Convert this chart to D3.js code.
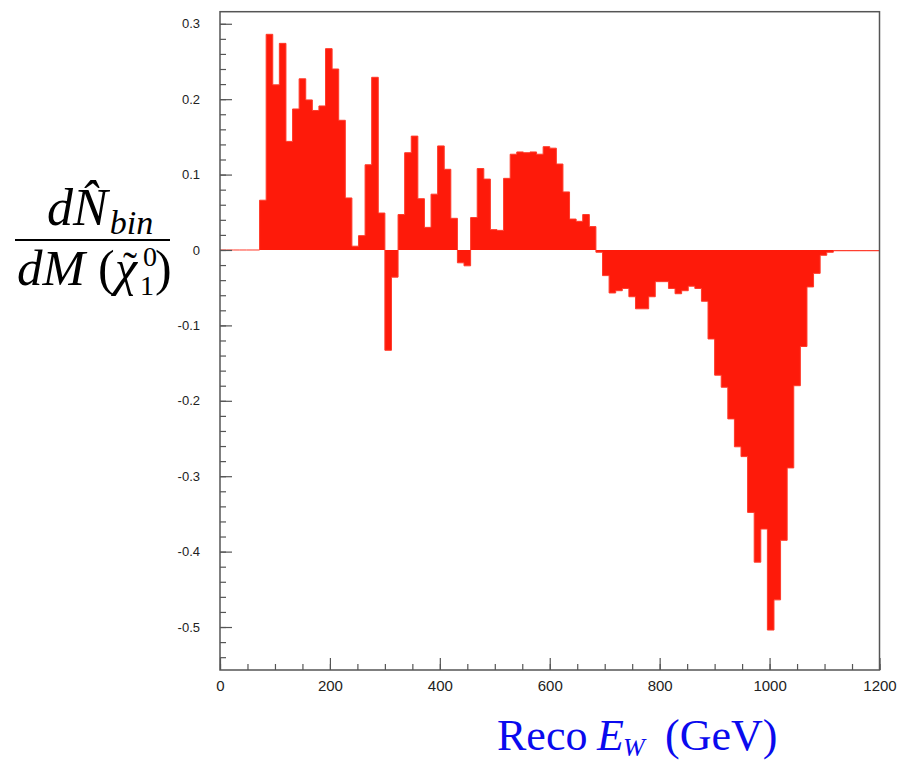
<!DOCTYPE html>
<html>
<head>
<meta charset="utf-8">
<script src="https://cdn.jsdelivr.net/npm/d3@7"></script>
<style>
  body { margin: 0; background: #fff; }
</style>
</head>
<body>
<div id="chart"></div>
<script>
// histogram: 100 bins of 12 GeV from 0 to 1200
const binWidth = 12;
const binValues = [
  0, 0, 0, 0, 0, 0, 0.066, 0.286, 0.219, 0.274,
  0.144, 0.187, 0.227, 0.199, 0.185, 0.191, 0.267, 0.240, 0.172, 0.069,
  0.005, 0.019, 0.113, 0.229, 0.049, -0.133, -0.036, 0.047, 0.129, 0.151,
  0.068, 0.030, 0.074, 0.138, 0.107, 0.042, -0.017, -0.021, 0.043, 0.108,
  0.094, 0.027, 0.026, 0.095, 0.127, 0.130, 0.129, 0.130, 0.127, 0.137,
  0.135, 0.114, 0.077, 0.041, 0.038, 0.047, 0.031, -0.003, -0.034, -0.057,
  -0.054, -0.051, -0.062, -0.078, -0.078, -0.062, -0.042, -0.042, -0.051, -0.058,
  -0.054, -0.048, -0.051, -0.068, -0.118, -0.166, -0.182, -0.224, -0.261, -0.274,
  -0.348, -0.414, -0.370, -0.504, -0.464, -0.385, -0.289, -0.180, -0.128, -0.049,
  -0.031, -0.007, -0.003, -0.001, -0.001, -0.001, -0.001, -0.001, -0.001, -0.001
];
const xMajorTicks = [0, 200, 400, 600, 800, 1000, 1200];
const yMajorTicks = [-0.5, -0.4, -0.3, -0.2, -0.1, 0, 0.1, 0.2, 0.3];

const width = 900, height = 761;
const plotLeft = 220, plotRight = 879.5, plotTop = 11.7, plotBottom = 670;
const barColor = "#fe1a0a";
const frameColor = "#555";

const bins = binValues.map((v, i) => ({x0: i * binWidth, x1: (i + 1) * binWidth, v: v}));

const x = d3.scaleLinear().domain([0, 1200]).range([plotLeft, plotRight]);
const y = d3.scaleLinear().domain([-0.557, 0.316]).range([plotBottom, plotTop]);

const svg = d3.select("#chart").append("svg")
  .attr("width", width)
  .attr("height", height);

// filled histogram as one stepped area (no seams between bins)
const steps = bins.map(d => ({x: d.x0, v: d.v}));
steps.push({x: bins[bins.length - 1].x1, v: bins[bins.length - 1].v});

const area = d3.area()
  .x(d => x(d.x))
  .y0(y(0))
  .y1(d => y(d.v))
  .curve(d3.curveStepAfter);

svg.append("path")
  .attr("d", area(steps))
  .attr("fill", barColor);

// outline, also gives the line along zero for the empty bins
const line = d3.line()
  .x(d => x(d.x))
  .y(d => y(d.v))
  .curve(d3.curveStepAfter);

svg.append("path")
  .attr("d", line([{x: 0, v: 0}].concat(steps)))
  .attr("fill", "none")
  .attr("stroke", "#ff3a2a")
  .attr("stroke-width", 1);

// axes
const yMinor = d3.range(-27, 16).map(k => k * 0.02);
const xMinor = d3.range(0, 1201, 50);

const yAxisMinor = d3.axisLeft(y).tickValues(yMinor).tickSize(-6).tickFormat("");
const yAxisMajor = d3.axisLeft(y).tickValues(yMajorTicks).tickSize(-12).tickPadding(20)
  .tickFormat(d => Math.abs(d) < 1e-9 ? "0" : (d < 0 ? "-" : "") + Math.abs(d).toFixed(1));
const xAxisMinor = d3.axisBottom(x).tickValues(xMinor).tickSize(-6).tickFormat("");
const xAxisMajor = d3.axisBottom(x).tickValues(xMajorTicks).tickSize(-12).tickPadding(10)
  .tickFormat(d3.format("d"));

function styleAxis(g) {
  g.select(".domain").remove();
  g.selectAll(".tick line").attr("stroke", frameColor).attr("stroke-width", 1.2);
}

svg.append("g").attr("transform", `translate(${plotLeft},0)`).call(yAxisMinor).call(styleAxis);
svg.append("g").attr("transform", `translate(${plotLeft},0)`).call(yAxisMajor).call(styleAxis)
  .selectAll("text")
  .attr("font-family", "Liberation Sans, Arial, sans-serif")
  .attr("font-size", 13)
  .attr("fill", "#222");
svg.append("g").attr("transform", `translate(0,${plotBottom})`).call(xAxisMinor).call(styleAxis);
svg.append("g").attr("transform", `translate(0,${plotBottom})`).call(xAxisMajor).call(styleAxis)
  .selectAll("text")
  .attr("font-family", "Liberation Sans Narrow, Liberation Sans, Arial, sans-serif")
  .attr("font-size", 15)
  .attr("fill", "#222");

// frame
svg.append("rect")
  .attr("x", plotLeft).attr("y", plotTop)
  .attr("width", plotRight - plotLeft).attr("height", plotBottom - plotTop)
  .attr("fill", "none")
  .attr("stroke", frameColor)
  .attr("stroke-width", 1.5);

// y title: fraction dN^_bin / dM(chi~_1^0)
const serif = "Liberation Serif, Times New Roman, serif";
const yt = svg.append("g").attr("font-family", serif).attr("fill", "#000");

const num = yt.append("text").attr("x", 47).attr("y", 225).attr("font-size", 52);
num.append("tspan").attr("font-style", "italic").text("dN\u0302");
num.append("tspan").attr("font-style", "italic").attr("font-size", 34).attr("dx", 2).attr("dy", 9).text("bin");

yt.append("line")
  .attr("x1", 15).attr("x2", 170).attr("y1", 240).attr("y2", 240)
  .attr("stroke", "#000").attr("stroke-width", 2.2);

const denBase = 285;
yt.append("text").attr("x", 17).attr("y", denBase).attr("font-size", 51)
  .attr("font-style", "italic").text("dM");
yt.append("text").attr("x", 98).attr("y", denBase).attr("font-size", 50).text("(");
yt.append("text").attr("x", 115).attr("y", denBase).attr("font-size", 50)
  .attr("font-style", "italic").text("\u03C7");
yt.append("text").attr("x", 130).attr("y", denBase - 4).attr("font-size", 42)
  .attr("text-anchor", "middle").text("\u02DC");
yt.append("text").attr("x", 140).attr("y", denBase + 10).attr("font-size", 28).text("1");
yt.append("text").attr("x", 143).attr("y", denBase - 19).attr("font-size", 28).text("0");
yt.append("text").attr("x", 155).attr("y", denBase).attr("font-size", 50).text(")");

// x title
const xt = svg.append("text")
  .attr("y", 750)
  .attr("font-family", serif)
  .attr("font-size", 44)
  .attr("fill", "#0a0aee");
xt.append("tspan").attr("x", 497).text("Reco");
xt.append("tspan").attr("x", 597).attr("font-style", "italic").text("E");
xt.append("tspan").attr("x", 623).attr("font-style", "italic").attr("font-size", 26).attr("dy", 6).text("W");
xt.append("tspan").attr("x", 665).attr("dy", -6).text("(GeV)");
</script>
</body>
</html>
